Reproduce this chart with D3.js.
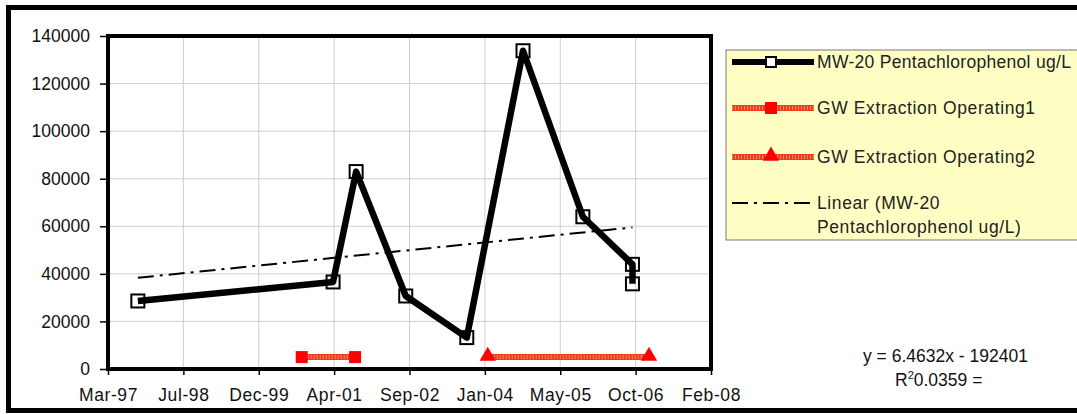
<!DOCTYPE html>
<html><head><meta charset="utf-8">
<script src="https://cdn.jsdelivr.net/npm/d3@7"></script>
<style>
html,body{margin:0;padding:0;background:#fff;}
svg{display:block;font-family:"Liberation Sans",Arial,sans-serif;}
</style></head>
<body><svg id="c" width="1077" height="414"></svg>
<script>
// ---- data ----
const mwDates = ["1997-09-25","2001-04-12","2001-09-12","2002-08-07","2003-09-16","2004-09-23","2005-10-25","2006-09-19","2006-09-19"];
const mwValues = [28600, 36600, 83000, 30700, 13200, 133800, 64000, 44000, 35800];
const gw1Dates = ["2000-09-16","2001-09-05"];
const gw1Values = [5000, 5000];
const gw2Dates = ["2004-02-02","2007-01-07"];
const gw2Values = [5000, 5000];
const trendSlope = 6.4632, trendIntercept = -192401, trendR2 = 0.0359;
const yTicks = [0,20000,40000,60000,80000,100000,120000,140000];
const xTickSerials = [35500,36000,36500,37000,37500,38000,38500,39000,39500];
const xTickLabels = ["Mar-97","Jul-98","Dec-99","Apr-01","Sep-02","Jan-04","May-05","Oct-06","Feb-08"];
const seriesNames = ["MW-20 Pentachlorophenol ug/L","GW Extraction Operating1","GW Extraction Operating2","Linear (MW-20","Pentachlorophenol ug/L)"];

// ---- helpers ----
const EPOCH = Date.UTC(1899,11,30);
const toSerial = d => (d.getTime() - EPOCH)/86400000;
const fromSerial = s => new Date(EPOCH + s*86400000);
const parse = s => new Date(s + "T00:00:00Z");

const svg = d3.select("#c");
const L = 108, R = 711, T = 36, B = 369;
const x = d3.scaleUtc().domain([fromSerial(35500), fromSerial(39500)]).range([L, R]);
const y = d3.scaleLinear().domain([0, 140000]).range([B, T]);
const FS = 17.5;

// outer frame
svg.append("rect").attr("x",8.5).attr("y",7.5).attr("width",1100).attr("height",403)
  .attr("fill","#fff").attr("stroke","#000").attr("stroke-width",5);

// gridlines
svg.append("g").selectAll("line").data(yTicks.slice(1,-1)).join("line")
  .attr("x1",L).attr("x2",R).attr("y1",d=>y(d)).attr("y2",d=>y(d))
  .attr("stroke","#cfcfcf").attr("stroke-width",1);
svg.append("g").selectAll("line").data(xTickSerials.slice(1,-1)).join("line")
  .attr("x1",d=>x(fromSerial(d))).attr("x2",d=>x(fromSerial(d))).attr("y1",T).attr("y2",B)
  .attr("stroke","#cfcfcf").attr("stroke-width",1);

// axes
const yAxis = svg.append("g").attr("transform",`translate(${L},0)`)
  .call(d3.axisLeft(y).tickValues(yTicks).tickFormat(d=>d).tickSize(8).tickPadding(10));
const xAxis = svg.append("g").attr("transform",`translate(0,${B})`)
  .call(d3.axisBottom(x).tickValues(xTickSerials.map(fromSerial))
    .tickFormat((d,i)=>xTickLabels[i]).tickSize(6).tickPadding(14));
[yAxis,xAxis].forEach(g=>{
  g.select(".domain").remove();
  g.selectAll(".tick line").attr("stroke","#000").attr("stroke-width",1.5);
  g.selectAll("text").attr("font-size",FS).attr("fill","#111")
    .attr("font-family","'Liberation Sans',Arial,sans-serif");
});
xAxis.selectAll("text").attr("letter-spacing",0.6);

// plot border
svg.append("rect").attr("x",L).attr("y",T).attr("width",R-L).attr("height",B-T)
  .attr("fill","none").attr("stroke","#000").attr("stroke-width",4);

// trendline
const tStart = toSerial(parse(mwDates[0])), tEnd = toSerial(parse(mwDates[mwDates.length-1]));
svg.append("line")
  .attr("x1",x(fromSerial(tStart))).attr("y1",y(trendSlope*tStart+trendIntercept))
  .attr("x2",x(fromSerial(tEnd))).attr("y2",y(trendSlope*tEnd+trendIntercept))
  .attr("stroke","#000").attr("stroke-width",2).attr("stroke-dasharray","16,6,3,6");

// red extraction lines
function redLine(g, pts){
  const line = d3.line().x(d=>x(d[0])).y(d=>y(d[1]));
  g.append("path").attr("d",line(pts)).attr("fill","none").attr("stroke","#f03a1c").attr("stroke-width",6);
  g.append("path").attr("d",line(pts)).attr("fill","none").attr("stroke","#ff8a64").attr("stroke-width",4).attr("stroke-dasharray","1,2");
}
const gw1 = gw1Dates.map((d,i)=>[parse(d), gw1Values[i]]);
const gw2 = gw2Dates.map((d,i)=>[parse(d), gw2Values[i]]);
redLine(svg.append("g"), gw1);
redLine(svg.append("g"), gw2);
svg.append("g").selectAll("rect").data(gw1).join("rect")
  .attr("x",d=>x(d[0])-6).attr("y",d=>y(d[1])-6).attr("width",12).attr("height",12).attr("fill","#ff0000");
const tri = d3.symbol().type(d3.symbolTriangle).size(115);
svg.append("g").selectAll("path").data(gw2).join("path")
  .attr("d",tri).attr("transform",d=>`translate(${x(d[0])},${y(d[1])-1})`).attr("fill","#ff0000");

// MW-20 line
const mw = mwDates.map((d,i)=>[parse(d), mwValues[i]]);
svg.append("path").attr("d",d3.line().x(d=>x(d[0])).y(d=>y(d[1]))(mw))
  .attr("fill","none").attr("stroke","#000").attr("stroke-width",6.5).attr("stroke-linejoin","round");
svg.append("g").selectAll("rect").data(mw).join("rect")
  .attr("x",d=>x(d[0])-6.5).attr("y",d=>y(d[1])-6.5).attr("width",13).attr("height",13)
  .attr("fill","none").attr("stroke","#000").attr("stroke-width",2);

// legend
const lg = svg.append("g");
lg.append("rect").attr("x",726).attr("y",50).attr("width",400).attr("height",190)
  .attr("fill","#ffffc4").attr("stroke","#777").attr("stroke-width",1);
const lx1 = 732, lx2 = 814, lmid = 771, tx = 817;
const rows = [62, 108, 157, 203];
// MW
lg.append("line").attr("x1",lx1).attr("x2",lx2).attr("y1",rows[0]).attr("y2",rows[0]).attr("stroke","#000").attr("stroke-width",6);
lg.append("rect").attr("x",lmid-5).attr("y",rows[0]-5).attr("width",10).attr("height",10).attr("fill","#fff").attr("stroke","#000").attr("stroke-width",2);
// GW1
redLine(lg, [[x.invert(lx1), y.invert(rows[1])],[x.invert(lx2), y.invert(rows[1])]]);
lg.append("rect").attr("x",lmid-6).attr("y",rows[1]-6).attr("width",12).attr("height",12).attr("fill","#ff0000");
// GW2
redLine(lg, [[x.invert(lx1), y.invert(rows[2])],[x.invert(lx2), y.invert(rows[2])]]);
lg.append("path").attr("d",tri).attr("transform",`translate(${lmid},${rows[2]-1})`).attr("fill","#ff0000");
// Linear
lg.append("line").attr("x1",lx1).attr("x2",lx2).attr("y1",rows[3]).attr("y2",rows[3])
  .attr("stroke","#000").attr("stroke-width",2).attr("stroke-dasharray","16,6,3,6");
const txtRows = [rows[0], rows[1], rows[2], rows[3], rows[3]+24];
lg.selectAll("text").data(seriesNames).join("text")
  .attr("x",tx).attr("y",(d,i)=>txtRows[i]).attr("dy","0.36em")
  .attr("font-size",FS).attr("fill","#222").attr("letter-spacing",(d,i)=>i===0?0.3:0.6).text(d=>d);

// equation
svg.append("text").attr("x",863).attr("y",362).attr("font-size",FS).attr("fill","#111")
  .text(`y = ${trendSlope}x - ${-trendIntercept}`);
const r2 = svg.append("text").attr("x",895).attr("y",386).attr("font-size",FS).attr("fill","#111");
r2.append("tspan").text("R");
r2.append("tspan").attr("font-size",11).attr("dy",-7).text("2");
r2.append("tspan").attr("dy",7).text(`${trendR2} =`);
</script></body></html>
